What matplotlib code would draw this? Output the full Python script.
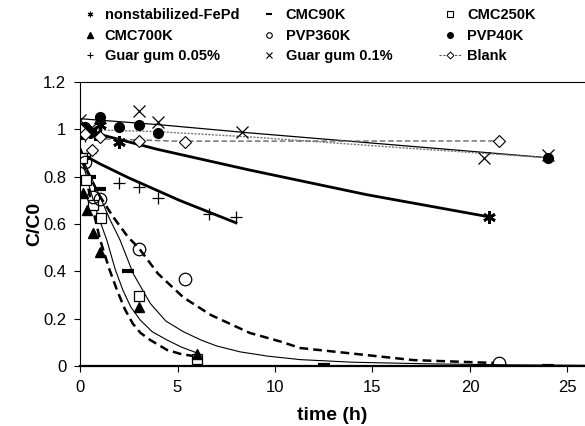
import matplotlib
matplotlib.use("Agg")
import matplotlib.pyplot as plt
from matplotlib.lines import Line2D

plt.rcParams['font.family'] = ['Liberation Sans', 'DejaVu Sans']

# measured points (time in h, C/C0)
t_nonstab = [0, 0.1, 0.25, 0.5, 0.75, 1.0, 2.0, 21.0]
c_nonstab = [1.0, 0.99, 1.0, 0.99, 0.98, 1.02, 0.947, 0.63]

t_cmc90 = [0, 0.25, 0.5, 1.0, 2.45, 12.5, 24.0]
c_cmc90 = [1.0, 0.88, 0.80, 0.75, 0.40, 0.005, 0.0]

t_cmc250 = [0, 0.1, 0.3, 0.65, 1.1, 3.0, 6.0]
c_cmc250 = [1.0, 0.88, 0.787, 0.68, 0.625, 0.296, 0.03]

t_cmc700 = [0, 0.15, 0.35, 0.67, 1.05, 3.05, 6.0]
c_cmc700 = [1.0, 0.73, 0.66, 0.56, 0.48, 0.25, 0.05]

t_pvp360 = [0, 0.25, 0.67, 1.0, 3.0, 5.4, 21.5]
c_pvp360 = [1.0, 0.86, 0.715, 0.705, 0.495, 0.367, 0.012]

t_pvp40 = [0, 0.1, 0.25, 0.5, 1.0, 2.0, 3.0, 4.0, 24.0]
c_pvp40 = [1.0, 0.98, 1.01, 0.99, 1.053, 1.01, 1.02, 0.985, 0.88]

t_guar005 = [0, 0.25, 0.5, 2.0, 3.0, 4.0, 6.6, 8.0]
c_guar005 = [1.0, 0.97, 0.9, 0.774, 0.757, 0.71, 0.643, 0.63]

t_guar01 = [0, 0.5, 3.0, 4.0, 8.3, 20.7, 24.0]
c_guar01 = [1.04, 1.0, 1.078, 1.03, 0.99, 0.88, 0.89]

t_blank = [0, 0.25, 0.6, 1.0, 3.0, 5.4, 21.5]
c_blank = [1.0, 0.98, 0.913, 0.968, 0.951, 0.947, 0.951]

# fitted curves
ft_nonstab = [0, 4.0, 8.7, 14.7, 21.0]
fc_nonstab = [1.0, 0.915, 0.828, 0.724, 0.63]

ft_guar005 = [0, 1.0, 2.5, 5.1, 8.0]
fc_guar005 = [0.9, 0.855, 0.795, 0.70, 0.605]

ft_guar01 = [0, 4.0, 8.7, 16.0, 24.0]
fc_guar01 = [1.045, 1.02, 0.985, 0.935, 0.88]

ft_pvp40 = [0, 4.0, 8.7, 16.0, 24.0]
fc_pvp40 = [1.0, 0.99, 0.968, 0.925, 0.88]

ft_blank = [0, 1.0, 5.0, 21.5]
fc_blank = [0.97, 0.96, 0.95, 0.951]

ft_pvp360 = [0, 0.5, 1.03, 1.7, 2.46, 3.0, 4.0, 5.3, 6.7, 8.7, 10.3, 11.3, 13.7, 17.1, 21.2]
fc_pvp360 = [0.88, 0.80, 0.716, 0.63, 0.545, 0.50, 0.39, 0.29, 0.216, 0.14, 0.103, 0.076, 0.055, 0.025, 0.013]

ft_cmc90 = [0, 0.5, 1.0, 1.5, 2.05, 2.73, 3.6, 4.4, 5.3, 6.2, 7.0, 8.2, 9.6, 11.3, 14.0, 18.0, 22.0, 25.9]
fc_cmc90 = [0.90, 0.81, 0.72, 0.625, 0.533, 0.39, 0.265, 0.19, 0.145, 0.11, 0.085, 0.06, 0.042, 0.027, 0.016, 0.009, 0.005, 0.003]

ft_cmc250 = [0, 0.4, 0.9, 1.37, 1.8, 2.2, 2.6, 3.08, 3.7, 4.46, 5.2, 6.0]
fc_cmc250 = [0.90, 0.78, 0.64, 0.533, 0.41, 0.32, 0.25, 0.195, 0.145, 0.11, 0.08, 0.055]

ft_cmc700 = [0, 0.1, 0.5, 1.03, 1.5, 1.9, 2.3, 2.7, 3.1, 3.6, 4.46, 5.2, 6.0]
fc_cmc700 = [0.92, 0.9, 0.72, 0.533, 0.41, 0.32, 0.24, 0.18, 0.14, 0.11, 0.068, 0.05, 0.04]

fig = plt.figure(figsize=(5.85, 4.26), dpi=100)
ax = fig.add_axes([0.1368, 0.1408, 0.8632, 0.6667])

# fit lines
ax.plot(ft_nonstab, fc_nonstab, color='black', lw=2.0)
ax.plot(ft_guar005, fc_guar005, color='black', lw=2.0)
ax.plot(ft_guar01, fc_guar01, color='black', lw=0.9)
ax.plot(ft_pvp40, fc_pvp40, color='#777777', lw=1.0, ls=(0, (1.5, 1)))
ax.plot(ft_blank, fc_blank, color='#666666', lw=1.0, ls=(0, (4, 2)))
ax.plot(ft_pvp360, fc_pvp360, color='black', lw=1.8, ls=(0, (3.5, 2)))
ax.plot(ft_cmc90, fc_cmc90, color='black', lw=0.8)
ax.plot(ft_cmc250, fc_cmc250, color='black', lw=0.8)
ax.plot(ft_cmc700, fc_cmc700, color='black', lw=1.8, ls=(0, (3.5, 2)))

# markers
ax.plot(t_nonstab, c_nonstab, ls='none', marker=(6, 2, 0), ms=9, mew=2, color='black')
ax.plot(t_cmc90, c_cmc90, ls='none', marker='_', ms=8, mew=3, color='black')
ax.plot(t_cmc250, c_cmc250, ls='none', marker='s', ms=7, mfc='white', mec='black', mew=0.9)
ax.plot(t_cmc700, c_cmc700, ls='none', marker='^', ms=7, color='black')
ax.plot(t_pvp360, c_pvp360, ls='none', marker='o', ms=9, mfc='none', mec='black', mew=0.9)
ax.plot(t_pvp40, c_pvp40, ls='none', marker='o', ms=7, color='black')
ax.plot(t_guar005, c_guar005, ls='none', marker='+', ms=9, mew=0.9, color='black')
ax.plot(t_guar01, c_guar01, ls='none', marker='x', ms=8, mew=0.9, color='black')
ax.plot(t_blank, c_blank, ls='none', marker='D', ms=6, mfc='white', mec='black', mew=0.8)

ax.set_xlim(0, 25.9)
ax.set_ylim(0, 1.2)
ax.set_xticks([0, 5, 10, 15, 20, 25])
ax.set_yticks([0, 0.2, 0.4, 0.6, 0.8, 1.0, 1.2])
ax.set_yticklabels(['0', '0.2', '0.4', '0.6', '0.8', '1', '1.2'])
ax.tick_params(direction='out', length=4, labelsize=12, pad=6)
ax.spines['right'].set_visible(False)
ax.spines['bottom'].set_linewidth(1.6)
ax.set_xlabel('time (h)', fontsize=14, fontweight='bold', labelpad=9)
ax.set_ylabel('C/C0', fontsize=14, fontweight='bold', labelpad=0)

# legend: one legend per column so the column positions match
h_nonstab = Line2D([], [], ls='none', marker=(6, 2, 0), ms=4, mew=0.8, color='black')
h_cmc90 = Line2D([], [], ls='none', marker='_', ms=5, mew=1.5, color='black')
h_cmc250 = Line2D([], [], ls='none', marker='s', ms=4, mfc='white', mec='black', mew=0.8)
h_cmc700 = Line2D([], [], ls='none', marker='^', ms=4, color='black')
h_pvp360 = Line2D([], [], ls='none', marker='o', ms=4, mfc='white', mec='black', mew=0.8)
h_pvp40 = Line2D([], [], ls='none', marker='o', ms=4, color='black')
h_guar005 = Line2D([], [], ls='none', marker='+', ms=4, mew=0.8, color='black')
h_guar01 = Line2D([], [], ls='none', marker='x', ms=4, mew=0.8, color='black')
h_blank = Line2D([], [], ls=(0, (2, 1.5)), lw=0.8, color='#555555', marker='D', ms=3.5,
                 mfc='white', mec='black', mew=0.7)

columns = [
    ([h_nonstab, h_cmc700, h_guar005], ['nonstabilized-FePd', 'CMC700K', 'Guar gum 0.05%'], 0.134, 0.2),
    ([h_cmc90, h_pvp360, h_guar01], ['CMC90K', 'PVP360K', 'Guar gum 0.1%'], 0.44, 0.35),
    ([h_cmc250, h_pvp40, h_blank], ['CMC250K', 'PVP40K', 'Blank'], 0.75, 0.35),
]
for hs, ls_, x0, pad in columns:
    fig.legend(hs, ls_, loc='upper left', bbox_to_anchor=(x0, 0.981), ncol=1,
               frameon=False, prop={'weight': 'bold', 'size': 10.5}, handlelength=1.6,
               handletextpad=pad, labelspacing=0.45, borderaxespad=0, borderpad=0)

fig.savefig('out.png', dpi=100)
